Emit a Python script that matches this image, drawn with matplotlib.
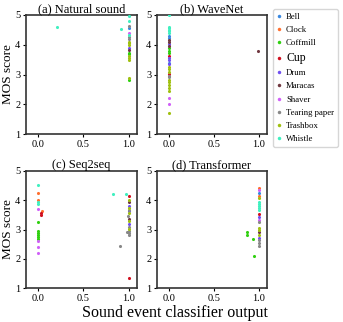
from matplotlib import pyplot as plt
from matplotlib.lines import Line2D

plt.rcParams['font.family'] = ['Liberation Serif', 'DejaVu Serif']

CLASSES = ['Bell', 'Clock', 'Coffmill', 'Cup', 'Drum', 'Maracas', 'Shaver',
           'Tearing paper', 'Trashbox', 'Whistle']
COLORS = ['#3a88e0', '#ff7030', '#30d010', '#d01020', '#7050f0', '#703840',
          '#d060f8', '#888888', '#a0c010', '#40f0c0']

# (a) Natural sound: classifier output, MOS score, class index
natural_x = [0.21, 0.91, 1.0, 1.0, 1.0, 1.0, 1.0, 1.0, 1.0, 1.0, 1.0, 1.0,
             1.0, 1.0, 1.0, 1.0, 1.0, 1.0, 1.0, 1.0, 1.0, 1.0]
natural_y = [4.61, 4.52, 4.97, 4.8, 4.63, 4.55, 4.4, 4.33, 4.25, 4.18, 4.1,
             4.05, 4.0, 3.9, 3.82, 3.73, 3.68, 3.62, 3.55, 3.5, 2.89, 2.82]
natural_c = [9, 9, 9, 9, 7, 0, 6, 9, 7, 7, 8, 8, 8, 4, 5, 2, 2, 8, 8, 8, 8, 2]

# (b) WaveNet
wavenet_x = [0.0] * 34 + [0.99]
wavenet_y = [5.0, 4.6, 4.55, 4.5, 4.45, 4.4, 4.3, 4.22, 4.15, 4.08, 4.02,
             3.95, 3.88, 3.8, 3.72, 3.62, 3.55, 3.48, 3.4, 3.35, 3.25, 3.18,
             3.1, 3.02, 2.95, 2.9, 2.82, 2.75, 2.65, 2.55, 2.45, 2.2, 2.0,
             1.7, 3.79]
wavenet_c = [9, 9, 9, 9, 9, 9, 0, 0, 5, 5, 4, 5, 2, 2, 2, 3, 4, 4, 0, 4,
             8, 8, 8, 3, 7, 7, 8, 8, 8, 8, 8, 6, 6, 8, 5]

# (c) Seq2seq
seq2seq_x = [0.0] * 15 + [0.05, 0.04, 0.04, 0.83, 0.97] + [1.0] * 8 + \
            [0.99, 1.0, 1.0, 1.0, 1.0, 1.0, 1.0, 1.0, 1.0, 0.98, 0.9, 1.0]
seq2seq_y = [4.52, 4.24, 4.02, 3.94, 3.87, 3.71, 3.24, 2.94, 2.87, 2.8, 2.73,
             2.66, 2.6, 2.41, 2.21, 3.62, 3.55, 3.48, 4.22, 4.22,
             4.13, 4.02, 3.93, 3.82, 3.74, 3.68, 3.62, 3.57,
             3.45, 3.37, 3.3, 3.19, 3.1, 3.02, 2.94, 2.87, 2.8, 2.93, 2.43,
             1.34]
seq2seq_c = [9, 1, 1, 9, 9, 6, 2, 2, 2, 2, 2, 2, 6, 6, 6, 1, 3, 3, 9, 9,
             3, 8, 5, 4, 8, 7, 4, 8, 7, 5, 8, 4, 7, 8, 7, 7, 7, 7, 7, 3]

# (d) Transformer
transformer_x = [1.0] * 22 + [0.87, 0.87, 0.94, 0.95]
transformer_y = [4.43, 4.35, 4.24, 4.16, 4.07, 3.95, 3.88, 3.8, 3.72, 3.65,
                 3.52, 3.42, 3.33, 3.24, 3.05, 2.99, 2.93, 2.82, 2.71, 2.65,
                 2.55, 2.42, 2.93, 2.82, 2.69, 2.1]
transformer_c = [1, 6, 0, 1, 8, 9, 9, 9, 9, 9, 3, 4, 6, 7, 8, 8, 5, 8, 4, 7,
                 7, 7, 2, 2, 2, 2]


def draw_panel(ax, xs, ys, cs, title):
    for k, color in enumerate(COLORS):
        px = [x for x, c in zip(xs, cs) if c == k]
        py = [y for y, c in zip(ys, cs) if c == k]
        ax.scatter(px, py, s=5, color=color, linewidths=0, zorder=3)
    ax.set_xlim(-0.13, 1.09)
    ax.set_ylim(1, 5)
    ax.set_xticks([0.0, 0.5, 1.0])
    ax.set_yticks([1, 2, 3, 4, 5])
    ax.set_title(title, fontsize=9, pad=2)
    ax.tick_params(labelsize=7.5, length=2.5, width=0.8, pad=1.5)
    for sp in ax.spines.values():
        sp.set_color('#333333')
        sp.set_linewidth(1.2)


def main():
    fig = plt.figure(figsize=(3.43, 3.22), dpi=100)
    W, H = 343, 322
    boxes = [(26, 15, 137, 134), (157, 15, 267, 134),
             (26, 171, 137, 288), (157, 171, 267, 288)]
    axes = [fig.add_axes([l / W, 1 - b / H, (r - l) / W, (b - t) / H])
            for l, t, r, b in boxes]
    draw_panel(axes[0], natural_x, natural_y, natural_c, '(a) Natural sound')
    draw_panel(axes[1], wavenet_x, wavenet_y, wavenet_c, '(b) WaveNet')
    draw_panel(axes[2], seq2seq_x, seq2seq_y, seq2seq_c, '(c) Seq2seq')
    draw_panel(axes[3], transformer_x, transformer_y, transformer_c,
               '(d) Transformer')
    for ax in (axes[0], axes[2]):
        ax.set_ylabel('MOS score', fontsize=9.5)
        ax.yaxis.set_label_coords(-0.11, 0.5)
    fig.text(175 / W, 1 - 321 / H, 'Sound event classifier output',
             fontsize=11.5, ha='center', va='bottom')

    handles = [Line2D([], [], marker='o', linestyle='', markersize=2.5,
                      markerfacecolor=c, markeredgewidth=0) for c in COLORS]
    leg = fig.legend(handles, CLASSES, loc='upper left',
                     bbox_to_anchor=(273 / W, 1 - 9 / H), fontsize=6.3,
                     handlelength=0.6, handletextpad=0.5, labelspacing=0.58,
                     borderpad=0.4, borderaxespad=0, frameon=True)
    leg.get_texts()[3].set_fontsize(8.5)
    fig.savefig('out.png', dpi=100)


if __name__ == '__main__':
    main()
